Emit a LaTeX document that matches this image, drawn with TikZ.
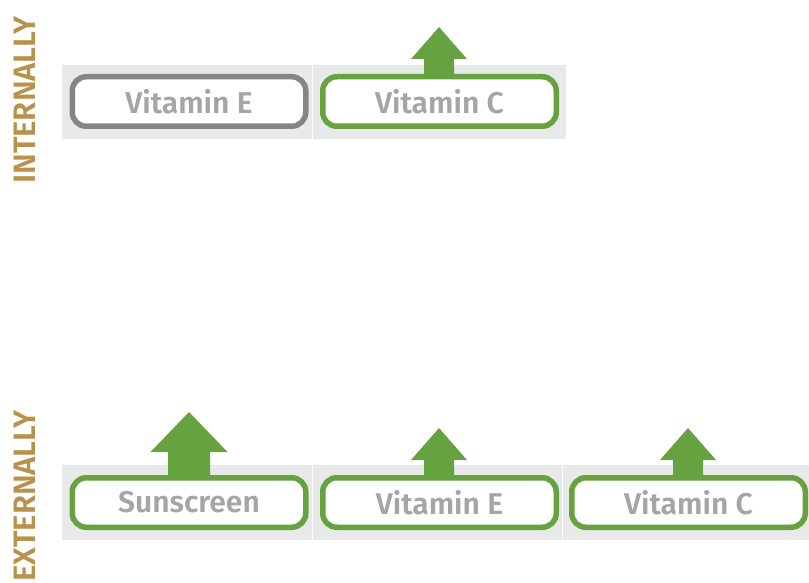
\documentclass[tikz,border=0pt]{standalone}
\usepackage{fontspec}
\setmainfont{Fira Sans}[BoldFont={* SemiBold}]
\definecolor{leafgreen}{HTML}{66A23F}
\definecolor{boxgrey}{HTML}{858585}
\definecolor{bandgrey}{HTML}{E8E9E9}
\definecolor{labelgrey}{HTML}{A5A5A5}
\definecolor{gold}{HTML}{B8924A}
\tikzset{
  band/.style={fill=bandgrey, draw=none},
  pill/.style={draw, line width=5.5pt, fill=white, rounded corners=14pt,
    minimum width=233.5pt, minimum height=49.5pt, inner sep=0pt,
    text=labelgrey, font=\fontsize{30}{30}\selectfont\bfseries},
  greenpill/.style={pill, draw=leafgreen},
  greypill/.style={pill, draw=boxgrey},
  sidelabel/.style={rotate=90, text=gold, inner sep=0pt,
    font=\fontsize{31}{31}\selectfont\bfseries},
  uparrow/.style={fill=leafgreen, draw=none}
}
\begin{document}
\begin{tikzpicture}[x=1pt, y=-1pt]
\useasboundingbox (0,0) rectangle (809,583);
% bands
\fill[band] (62,65) rectangle (312,139);
\fill[band] (313,65) rectangle (566,139);
\fill[band] (62,465) rectangle (312,540);
\fill[band] (313,465) rectangle (562,540);
\fill[band] (563,465) rectangle (809,540);
% side labels
\node[sidelabel, anchor=base] (lin) at (35,100) {INTERNALLY};
\node[sidelabel, anchor=base east] (lex) at (35,410) {EXTERNALLY};
% arrows (drawn first, stems run into the box borders)
\coordinate (a1) at (439,74);
\coordinate (a2) at (189,475);
\coordinate (a3) at (439,475);
\coordinate (a4) at (688,475);
\foreach \c in {a1,a3,a4}{
  \fill[uparrow, shift={(\c)}] (-15,3) -- (-15,-15) -- (-28,-15) -- (0,-47)
     -- (28,-15) -- (15,-15) -- (15,3) -- cycle;
}
\fill[uparrow, shift={(a2)}] (-21,3) -- (-21,-23) -- (-38.5,-23) -- (0,-63)
   -- (38.5,-23) -- (21,-23) -- (21,3) -- cycle;
% boxes
\node[greypill] (ie) at (189,101.5) {Vitamin E};
\node[greenpill] (ic) at (439.5,101.5) {Vitamin C};
\node[greenpill] (es) at (189,502.5) {Sunscreen};
\node[greenpill] (ee) at (439.5,502.5) {Vitamin E};
\node[greenpill] (ec) at (688.5,502.5) {Vitamin C};
\end{tikzpicture}
\end{document}
